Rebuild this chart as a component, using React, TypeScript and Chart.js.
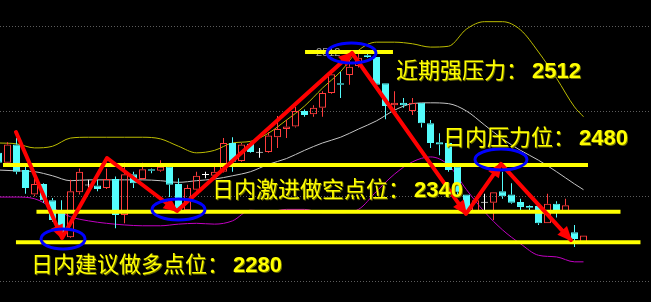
import React, { useEffect, useRef } from 'react';
import { Chart, registerables } from 'chart.js';

Chart.register(...registerables);

// Daily candles, oldest first
const opens = [
  2389, 2377, 2399, 2368, 2338, 2351, 2331, 2316, 2286, 2341,
  2349, 2349, 2346, 2357, 2313, 2363, 2357, 2369, 2367, 2372,
  2351, 2319, 2344, 2362, 2361, 2366, 2401, 2379, 2400, 2389,
  2390, 2408, 2418, 2421, 2440, 2436, 2444, 2462, 2474, 2484,
  2495, 2508, 2506, 2474, 2447, 2450, 2440, 2450, 2425, 2402,
  2401, 2372, 2338, 2318, 2328, 2328, 2342, 2338, 2329, 2324,
  2324, 2303, 2327, 2317, 2292, 2280,
];
const highs = [
  2392, 2402, 2407, 2372, 2358, 2352, 2334, 2331, 2356, 2370,
  2356, 2356, 2370, 2360, 2377, 2366, 2377, 2370, 2380, 2374,
  2358, 2350, 2366, 2366, 2372, 2407, 2408, 2401, 2402, 2395,
  2414, 2434, 2429, 2445, 2442, 2447, 2464, 2491, 2488, 2502,
  2512, 2510, 2506, 2474, 2464, 2456, 2456, 2450, 2429, 2413,
  2401, 2372, 2338, 2331, 2339, 2341, 2366, 2352, 2333, 2325,
  2324, 2339, 2330, 2333, 2301, 2288,
];
const lows = [
  2373, 2376, 2363, 2339, 2336, 2328, 2305, 2288, 2285, 2338,
  2341, 2342, 2345, 2297, 2303, 2346, 2356, 2364, 2366, 2335,
  2316, 2317, 2343, 2358, 2360, 2365, 2366, 2378, 2389, 2383,
  2389, 2395, 2407, 2420, 2433, 2433, 2433, 2461, 2456, 2472,
  2493, 2505, 2470, 2430, 2435, 2444, 2435, 2420, 2395, 2386,
  2366, 2338, 2313, 2317, 2319, 2307, 2333, 2327, 2318, 2318,
  2301, 2303, 2310, 2317, 2274, 2280,
];
const closes = [
  2377, 2399, 2366, 2346, 2351, 2331, 2307, 2291, 2342, 2366,
  2349, 2345, 2357, 2313, 2363, 2352, 2369, 2367, 2372, 2350,
  2319, 2346, 2361, 2362, 2366, 2401, 2378, 2399, 2390, 2389,
  2410, 2418, 2421, 2440, 2435, 2444, 2462, 2485, 2472, 2494,
  2505, 2506, 2472, 2446, 2450, 2447, 2450, 2425, 2401, 2399,
  2368, 2341, 2317, 2331, 2328, 2341, 2336, 2328, 2323, 2322,
  2303, 2327, 2317, 2325, 2284, 2288,
];

// Bollinger band readings (session index)
const bandIndex = [
  0, 2, 4, 6, 8, 10, 12, 14, 16, 18, 20, 22, 24, 26, 28, 30, 32,
  34, 36, 38, 40, 42, 44, 46, 48, 50, 52, 54, 56, 58, 60, 62, 64, 65,
];
const upperBand = [
  2401, 2400, 2395, 2397, 2407, 2408, 2408, 2408, 2408, 2406,
  2397, 2389, 2392, 2401, 2403, 2413, 2429, 2446, 2468, 2488,
  2514, 2524, 2524, 2522, 2518, 2519, 2540, 2549, 2549, 2539,
  2512, 2480, 2445, 2433,
];
const middleBand = [
  2368, 2367, 2366, 2361, 2355, 2356, 2356, 2356, 2356, 2355,
  2353, 2355, 2357, 2361, 2366, 2375, 2382, 2392, 2401, 2408,
  2418, 2428, 2441, 2449, 2450, 2449, 2440, 2423, 2406, 2392,
  2380, 2366, 2351, 2344,
];
const lowerBand = [
  2335, 2335, 2333, 2322, 2311, 2306, 2303, 2301, 2300, 2300,
  2302, 2303, 2302, 2306, 2319, 2317, 2320, 2320, 2316, 2316,
  2320, 2342, 2363, 2378, 2384, 2374, 2344, 2317, 2295, 2278,
  2264, 2262, 2256, 2256,
];

// Dotted price grid
const gridLevels = [2543.7, 2440, 2336.3, 2232.6];

// Support / resistance guide lines (price, first and last session covered)
const guideLevels = [2512, 2374, 2317, 2280];
const guideFrom = [34.06, 0.5, 4.22, 1.94];
const guideTo = [43.83, 65.5, 69.11, 71.33];

const noteTitles = ['近期强压力：', '日内压力位：', '日内激进做空点位：', '日内建议做多点位：'];
const noteValues = ['2512', '2480', '2340', '2280'];
const peakTag = '2512';

// Swing path drawn as arrows
const swingX = [1.94, 7.06, 12.06, 19.83, 39.28, 51.94, 55.83, 63.61];
const swingY = [2414.4, 2285.1, 2382.7, 2318.0, 2510.8, 2314.4, 2375.4, 2282.6];
const swingArrowAt = [1, 3, 4, 5, 6, 7];

// Highlighted turning points
const ringX = [7.17, 20, 39.22, 55.83];
const ringY = [2283.9, 2319.9, 2510.8, 2380.9];

const UP = '#ff3c3c';
const DOWN = '#54fcfc';
const FLAT = '#ffffff';

const tone = (i: number) =>
  closes[i] > opens[i] ? UP : closes[i] < opens[i] ? DOWN : FLAT;

const notePlacement = {
  x: [44.17, 49.39, 23.72, 3.61],
  y: [2480.3, 2398.5, 2334.5, 2243.6],
  gap: 4,
};

const overlay = {
  id: 'overlay',
  beforeDraw(chart: any) {
    const { ctx, width, height } = chart;
    ctx.save();
    ctx.fillStyle = '#000000';
    ctx.fillRect(0, 0, width, height);
    ctx.restore();
  },
  beforeDatasetsDraw(chart: any) {
    const { ctx, chartArea, scales } = chart;
    const xs = scales.x;
    const ys = scales.y;
    ctx.save();
    ctx.strokeStyle = '#5c5c5c';
    ctx.lineWidth = 1;
    ctx.setLineDash([1, 2]);
    gridLevels.forEach((v) => {
      const y = Math.round(ys.getPixelForValue(v)) + 0.5;
      ctx.beginPath();
      ctx.moveTo(chartArea.left, y);
      ctx.lineTo(chartArea.right, y);
      ctx.stroke();
    });
    ctx.setLineDash([]);
    ctx.fillStyle = '#a0a0a0';
    ctx.font = '11px "Liberation Sans"';
    ctx.textBaseline = 'middle';
    ctx.fillText(peakTag, xs.getPixelForValue(35.28), ys.getPixelForValue(guideLevels[0]) + 1);
    ctx.restore();
  },
  afterDatasetsDraw(chart: any) {
    const { ctx, scales } = chart;
    const xs = scales.x;
    const ys = scales.y;
    const px = (k: number) => ({ x: xs.getPixelForValue(swingX[k]), y: ys.getPixelForValue(swingY[k]) });

    ctx.save();
    // arrow heads
    ctx.fillStyle = '#ff0000';
    swingArrowAt.forEach((k) => {
      const p = px(k);
      const q = px(k - 1);
      const a = Math.atan2(p.y - q.y, p.x - q.x);
      const len = 13;
      const half = 6.5;
      const bx = p.x - len * Math.cos(a);
      const by = p.y - len * Math.sin(a);
      ctx.beginPath();
      ctx.moveTo(p.x + 2 * Math.cos(a), p.y + 2 * Math.sin(a));
      ctx.lineTo(bx + half * Math.sin(a), by - half * Math.cos(a));
      ctx.lineTo(bx - half * Math.sin(a), by + half * Math.cos(a));
      ctx.closePath();
      ctx.fill();
    });

    // rings
    const ringRx = [22, 26.5, 24.5, 26];
    const ringRy = [10, 10.5, 10, 10.5];
    ctx.strokeStyle = '#0000ff';
    ctx.lineWidth = 3;
    ringX.forEach((x, k) => {
      ctx.beginPath();
      ctx.ellipse(xs.getPixelForValue(x), ys.getPixelForValue(ringY[k]), ringRx[k], ringRy[k], 0, 0, Math.PI * 2);
      ctx.stroke();
    });

    // notes
    ctx.textBaseline = 'alphabetic';
    noteTitles.forEach((title, k) => {
      const x = xs.getPixelForValue(notePlacement.x[k]);
      const y = ys.getPixelForValue(notePlacement.y[k]);
      ctx.font = '22px "Noto Sans CJK SC"';
      const w = ctx.measureText(title).width;
      ctx.fillStyle = '#6e6e00';
      ctx.fillText(title, x + 1, y + 1);
      ctx.fillStyle = '#ffff00';
      ctx.fillText(title, x, y);
      ctx.font = 'bold 22px "Liberation Sans"';
      ctx.fillStyle = '#6e6e00';
      ctx.fillText(noteValues[k], x + w + notePlacement.gap + 1, y + 1);
      ctx.fillStyle = '#ffff00';
      ctx.fillText(noteValues[k], x + w + notePlacement.gap, y);
    });
    ctx.restore();
  },
};

export default function App() {
  const canvasRef = useRef<HTMLCanvasElement | null>(null);

  useEffect(() => {
    const canvas = canvasRef.current;
    if (!canvas) return;
    const idx = opens.map((_, i) => i);

    const bodies = idx.map((i) => ({ x: i, y: [opens[i], closes[i]] }));
    const upperWicks = idx.map((i) => ({ x: i, y: [Math.max(opens[i], closes[i]), highs[i]] }));
    const lowerWicks = idx.map((i) => ({ x: i, y: [lows[i], Math.min(opens[i], closes[i])] }));

    const band = (values: number[], color: string) => ({
      type: 'line' as const,
      data: bandIndex.map((x, k) => ({ x, y: values[k] })),
      borderColor: color,
      borderWidth: 1,
      pointRadius: 0,
      cubicInterpolationMode: 'monotone' as const,
      order: 6,
    });

    const wick = (data: any[]) => ({
      type: 'bar' as const,
      data,
      barThickness: 1,
      borderWidth: 0,
      inflateAmount: 0,
      backgroundColor: (c: any) => tone(c.dataIndex),
      grouped: false,
      order: 5,
    });

    const chart = new Chart(canvas, {
      type: 'bar',
      data: {
        datasets: [
          band(upperBand, '#bcbc00'),
          band(middleBand, '#c4c4c4'),
          band(lowerBand, '#c000c0'),
          wick(upperWicks),
          wick(lowerWicks),
          {
            type: 'bar',
            data: bodies as any,
            barThickness: 7,
            borderWidth: 1,
            borderSkipped: false,
            inflateAmount: 0,
            minBarLength: 1,
            grouped: false,
            borderColor: (c: any) => tone(c.dataIndex),
            backgroundColor: (c: any) => {
              const col = tone(c.dataIndex);
              return col === UP ? 'rgba(0,0,0,0)' : col;
            },
            order: 4,
          } as any,
          ...guideLevels.map((v, k) => ({
            type: 'line' as const,
            data: [
              { x: guideFrom[k], y: v },
              { x: guideTo[k], y: v },
            ],
            borderColor: '#ffff00',
            borderWidth: 4,
            pointRadius: 0,
            order: 2,
          })),
          {
            type: 'line',
            data: swingX.map((x, k) => ({ x, y: swingY[k] })),
            borderColor: '#ff0000',
            borderWidth: 4,
            borderJoinStyle: 'round',
            borderCapStyle: 'round',
            pointRadius: 0,
            tension: 0,
            order: 1,
          } as any,
        ] as any,
      },
      options: {
        animation: false,
        responsive: false,
        maintainAspectRatio: false,
        events: [],
        layout: { padding: 0 },
        plugins: { legend: { display: false }, tooltip: { enabled: false } },
        scales: {
          x: { type: 'linear', min: 1 / 6, max: 72.5, offset: false, display: false },
          y: { type: 'linear', min: 2207, max: 2575.44, beginAtZero: false, display: false },
        },
      },
      plugins: [overlay],
    });

    return () => chart.destroy();
  }, []);

  return (
    <div style={{ position: 'fixed', left: 0, top: 0, width: 651, height: 302, background: '#000' }}>
      <canvas ref={canvasRef} width={651} height={302} style={{ display: 'block' }} />
    </div>
  );
}
